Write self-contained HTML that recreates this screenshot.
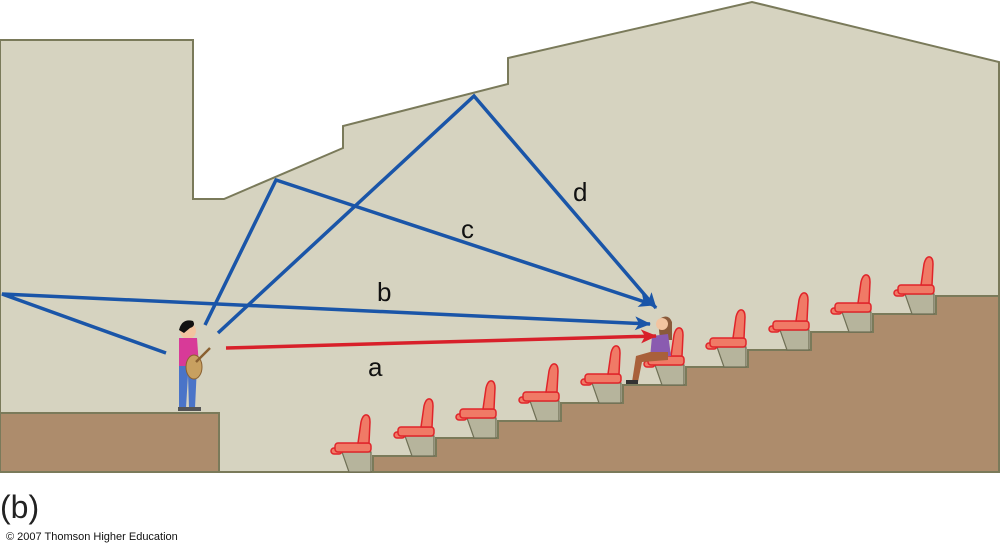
<!DOCTYPE html>
<html><head><meta charset="utf-8"><style>
html,body{margin:0;padding:0;background:#fff;}
svg{display:block}
</style></head><body>
<svg width="1000" height="546" viewBox="0 0 1000 546" xmlns="http://www.w3.org/2000/svg">
<defs>
<marker id="ab" markerWidth="16" markerHeight="14" refX="15" refY="7" orient="auto" markerUnits="userSpaceOnUse" viewBox="0 0 16 14"><path d="M0,0 L16,7 L0,14 L4,7 Z" fill="#1a55a8"/></marker>
<marker id="ar" markerWidth="16" markerHeight="14" refX="15" refY="7" orient="auto" markerUnits="userSpaceOnUse" viewBox="0 0 16 14"><path d="M0,0 L16,7 L0,14 L4,7 Z" fill="#d8202a"/></marker>
<g id="seat">
<polygon points="-31,-20 -2,-20 -2,0 -24,0" fill="#b6b49c" stroke="#6f6f55" stroke-width="1.2"/>
<rect x="-42" y="-24" width="11" height="6" rx="3" fill="#f07a66" stroke="#e0242a" stroke-width="1.5"/>
<rect x="-38" y="-29" width="36" height="9" rx="3" fill="#f07a66" stroke="#e0242a" stroke-width="1.5"/>
<path d="M-15,-29 L-12,-50 Q-10,-58 -6,-57 Q-3,-56 -3,-50 L-4,-29 Z" fill="#f07a66" stroke="#e0242a" stroke-width="1.5"/>
</g>
</defs>
<polygon points="0,40 193,40 193,199 224,199 343,148 343,126 508,84 508,58 752,2 999,62 999,472 0,472" fill="#d6d3c0" stroke="#7a7a5a" stroke-width="2"/>
<polygon points="0,413 219,413 219,472 0,472" fill="#ad8c6c" stroke="#7a7a5a" stroke-width="2"/>
<line x1="219" y1="472" x2="373" y2="472" stroke="#7a7a5a" stroke-width="2"/>
<polygon points="373,472 373,456 436,456 436,438 498,438 498,421 561,421 561,403 623,403 623,385 686,385 686,367 748,367 748,350 811,350 811,332 873,332 873,314 936,314 936,296 999,296 999,472" fill="#ad8c6c" stroke="#7a7a5a" stroke-width="2"/>
<use href="#seat" x="373" y="472"/>
<use href="#seat" x="436" y="456"/>
<use href="#seat" x="498" y="438"/>
<use href="#seat" x="561" y="421"/>
<use href="#seat" x="623" y="403"/>
<use href="#seat" x="686" y="385"/>
<use href="#seat" x="748" y="367"/>
<use href="#seat" x="811" y="350"/>
<use href="#seat" x="873" y="332"/>
<use href="#seat" x="936" y="314"/>
<!-- listener -->
<path d="M658,320 Q668,312 672,322 L672,340 L660,340 Z" fill="#8a5a3a"/>
<circle cx="662" cy="324" r="6" fill="#f2c4a0"/>
<path d="M652,336 L668,334 L671,356 L650,358 Z" fill="#8a5bb0"/>
<path d="M650,352 L668,352 L668,360 L642,362 L638,382 L632,382 L636,356 Z" fill="#a9603a"/>
<rect x="626" y="380" width="12" height="4" fill="#333"/>
<!-- guitarist -->
<circle cx="188" cy="331" r="8" fill="#f2c4a0"/>
<path d="M179,330 Q182,318 193,321 Q196,326 190,328 L184,333 Z" fill="#111"/>
<path d="M179,338 L197,338 L199,366 L179,366 Z" fill="#d83a98"/>
<path d="M179,366 L197,366 L195,408 L189,408 L188,375 L186,408 L179,408 Z" fill="#4a74c8"/>
<ellipse cx="194" cy="367" rx="8" ry="12" fill="#c8a060" stroke="#8a6030"/>
<line x1="196" y1="362" x2="210" y2="348" stroke="#8a6030" stroke-width="2.5"/>
<rect x="178" y="407" width="23" height="4" fill="#555"/>
<!-- rays -->
<g fill="none" stroke="#1a55a8" stroke-width="3.5">
<polyline points="166,353 2,294 650,324" marker-end="url(#ab)"/>
<polyline points="205,325 276,180 654,305" marker-end="url(#ab)"/>
<polyline points="218,333 474,96 656,308" marker-end="url(#ab)"/>
</g>
<line x1="226" y1="348" x2="656" y2="336" stroke="#d8202a" stroke-width="3.5" marker-end="url(#ar)"/>
<g font-family="Liberation Sans, sans-serif" font-size="26" fill="#111">
<text x="573" y="201">d</text>
<text x="461" y="238">c</text>
<text x="377" y="301">b</text>
<text x="368" y="376">a</text>
</g>
<text x="0" y="518" font-family="Liberation Sans, sans-serif" font-size="32" fill="#222">(b)</text>
<text x="6" y="540" font-family="Liberation Sans, sans-serif" font-size="11" fill="#111">© 2007 Thomson Higher Education</text>
</svg>
</body></html>
